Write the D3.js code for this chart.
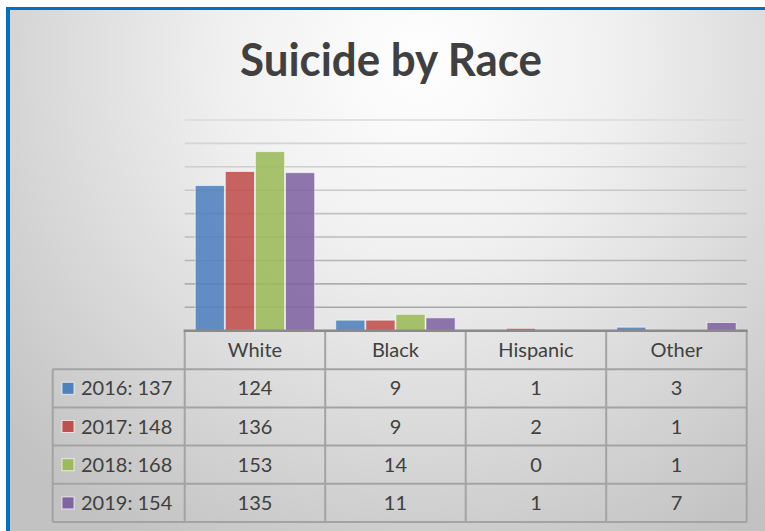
<!DOCTYPE html>
<html>
<head>
<meta charset="utf-8">
<script src="https://cdn.jsdelivr.net/npm/d3@7"></script>
<style>
  body { margin: 0; padding: 0; overflow: hidden; }
  svg { display: block; font-family: Lato, "Open Sans", sans-serif; }
</style>
</head>
<body>
<div id="chart"></div>
<script>
var width = 765;
var height = 531;

// data
var categories = ["White", "Black", "Hispanic", "Other"];
var years = ["2016", "2017", "2018", "2019"];
var values2016 = [124, 9, 1, 3];
var values2017 = [136, 9, 2, 1];
var values2018 = [153, 14, 0, 1];
var values2019 = [135, 11, 1, 7];
var yTicks = [0, 20, 40, 60, 80, 100, 120, 140, 160, 180];
var colors = ["#4f81bd", "#c0504d", "#9bbb59", "#8064a2"];

var series = [values2016, values2017, values2018, values2019].map(function (v, i) {
  return { year: years[i], values: v, total: d3.sum(v), color: colors[i] };
});

var svg = d3.select("#chart")
  .append("svg")
  .attr("width", width)
  .attr("height", height);

var defs = svg.append("defs");
var bg = defs.append("radialGradient")
  .attr("id", "bg")
  .attr("gradientUnits", "userSpaceOnUse")
  .attr("cx", 420).attr("cy", 60).attr("r", 560);
bg.append("stop").attr("offset", "0%").attr("stop-color", "#ffffff");
bg.append("stop").attr("offset", "35%").attr("stop-color", "#f0f0f0");
bg.append("stop").attr("offset", "100%").attr("stop-color", "#c2c2c2");

// white page edge, then the blue frame (it runs past right/bottom edges)
svg.append("rect").attr("width", width).attr("height", height).style("fill", "#ffffff");
svg.append("rect")
  .attr("x", 6).attr("y", 7)
  .attr("width", width).attr("height", height)
  .style("fill", "#0070c0");
svg.append("rect")
  .attr("x", 10).attr("y", 10)
  .attr("width", width).attr("height", height)
  .style("fill", "url(#bg)");

// title
svg.append("text")
  .attr("x", 391).attr("y", 76)
  .attr("text-anchor", "middle")
  .attr("textLength", 302)
  .attr("lengthAdjust", "spacingAndGlyphs")
  .style("font-size", "45px")
  .style("font-weight", "bold")
  .style("fill", "#404040")
  .text("Suicide by Race");

// scales
var x = d3.scaleBand().domain(categories).range([184.7, 746.7]);
var xs = d3.scaleBand().domain(years).range([0, x.bandwidth()])
  .paddingInner(0.03).paddingOuter(0.35);
var y = d3.scaleLinear().domain([0, 180]).range([330.7, 120]);
var gridColor = d3.scaleLinear().domain([180, 20]).range(["#dadada", "#a8a8a8"]);

// gridlines
svg.append("g")
  .selectAll("line")
  .data(yTicks.slice(1))
  .join("line")
  .attr("x1", x.range()[0]).attr("x2", x.range()[1])
  .attr("y1", function (d) { return y(d); })
  .attr("y2", function (d) { return y(d); })
  .style("stroke", function (d) { return gridColor(d); })
  .style("stroke-width", 1.6);

// bars
var groups = svg.append("g")
  .selectAll("g")
  .data(series)
  .join("g")
  .style("fill", function (d) { return d.color; });

groups.selectAll("rect")
  .data(function (s) {
    return s.values.map(function (v, i) { return { year: s.year, cat: categories[i], value: v }; });
  })
  .join("rect")
  .attr("x", function (d) { return x(d.cat) + xs(d.year); })
  .attr("width", xs.bandwidth())
  .attr("y", function (d) { return y(d.value); })
  .attr("height", function (d) { return y(0) - y(d.value); })
  .style("fill-opacity", 0.88)
  .style("stroke", "rgba(255,255,255,0.6)")
  .style("stroke-width", 1);

// data table
var headerH = 38.5;
var rowH = 38.2;
var tableTop = 330.7;
var legendLeft = 52.7;
var lineColor = "#a3a3a3";
var fontSize = "20px";
var table = svg.append("g");

// horizontal lines
var rowLines = d3.range(1, series.length + 1).map(function (i) { return tableTop + headerH + (i - 1) * rowH; });
rowLines.push(tableTop + headerH + series.length * rowH);
table.selectAll("line.h")
  .data(rowLines)
  .join("line")
  .attr("class", "h")
  .attr("x1", legendLeft).attr("x2", x.range()[1])
  .attr("y1", function (d) { return d; }).attr("y2", function (d) { return d; })
  .style("stroke", lineColor).style("stroke-width", 2);

// vertical lines
var colLines = categories.map(function (c) { return x(c); });
colLines.push(x.range()[1]);
table.selectAll("line.v")
  .data(colLines)
  .join("line")
  .attr("class", "v")
  .attr("x1", function (d) { return d; }).attr("x2", function (d) { return d; })
  .attr("y1", tableTop).attr("y2", rowLines[rowLines.length - 1])
  .style("stroke", lineColor).style("stroke-width", 2);
table.append("line")
  .attr("x1", legendLeft).attr("x2", legendLeft)
  .attr("y1", rowLines[0]).attr("y2", rowLines[rowLines.length - 1])
  .style("stroke", lineColor).style("stroke-width", 2);

// axis line
svg.append("line")
  .attr("x1", x.range()[0] - 1).attr("x2", x.range()[1] + 1)
  .attr("y1", y(0)).attr("y2", y(0))
  .style("stroke", "#8a8a8a").style("stroke-width", 2.6);

// header labels
table.selectAll("text.cat")
  .data(categories)
  .join("text")
  .attr("class", "cat")
  .attr("x", function (d) { return x(d) + x.bandwidth() / 2; })
  .attr("y", tableTop + headerH / 2 + 7)
  .attr("text-anchor", "middle")
  .style("font-size", fontSize)
  .style("fill", "#404040")
  .text(function (d) { return d; });

// rows
var rows = table.selectAll("g.row")
  .data(series)
  .join("g")
  .attr("class", "row")
  .attr("transform", function (d, i) { return "translate(0," + (rowLines[i] + rowH / 2) + ")"; });

rows.append("rect")
  .attr("x", 62).attr("y", -6)
  .attr("width", 12).attr("height", 12)
  .style("fill", function (d) { return d.color; })
  .style("stroke", "rgba(255,255,255,0.7)")
  .style("stroke-width", 1);

rows.append("text")
  .attr("x", 81).attr("y", 7)
  .style("font-size", fontSize)
  .style("fill", "#404040")
  .text(function (d) { return d.year + ": " + d.total; });

rows.selectAll("text.val")
  .data(function (d) { return d.values; })
  .join("text")
  .attr("class", "val")
  .attr("x", function (d, i) { return x(categories[i]) + x.bandwidth() / 2; })
  .attr("y", 7)
  .attr("text-anchor", "middle")
  .style("font-size", fontSize)
  .style("fill", "#404040")
  .text(function (d) { return d; });
</script>
</body>
</html>
